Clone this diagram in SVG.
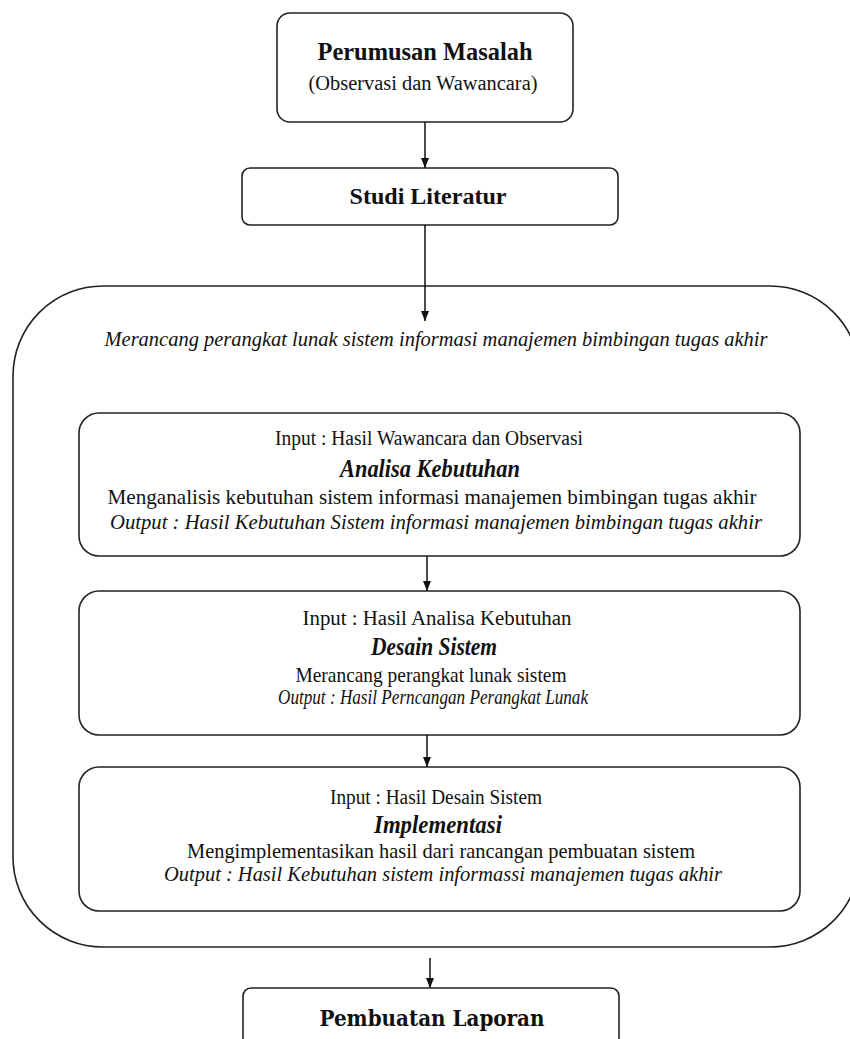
<svg xmlns="http://www.w3.org/2000/svg" width="850" height="1039" viewBox="0 0 850 1039">
<style>
.box{fill:#fff;stroke:#222;stroke-width:1.6}
.c{fill:none;stroke:#111;stroke-width:1.5}
text{font-family:"Liberation Serif","Times New Roman",serif;fill:#111;text-anchor:middle}
.b{font-weight:bold}
.i{font-style:italic}
.bi{font-weight:bold;font-style:italic}
.cam{font-family:"DejaVu Serif","Liberation Serif",serif;font-weight:bold}
</style>
<defs>
<marker id="ah" viewBox="0 0 10 10" refX="10" refY="5" markerWidth="10" markerHeight="10" markerUnits="userSpaceOnUse" orient="auto">
<path d="M0,1 L10,5 L0,9 Z" fill="#111"/>
</marker>
</defs>
<rect width="850" height="1039" fill="#fff"/>
<g id="container">
<rect class="box" x="13" y="286" width="847" height="661" rx="90" ry="90"/>
<text class="i" x="436" y="346" font-size="20" textLength="663" lengthAdjust="spacingAndGlyphs">Merancang perangkat lunak sistem informasi manajemen bimbingan tugas akhir</text>
</g>
<g id="perumusan">
<rect class="box" x="277" y="13" width="296" height="109" rx="13"/>
<text class="b" x="425" y="60" font-size="25" textLength="215" lengthAdjust="spacingAndGlyphs">Perumusan Masalah</text>
<text x="423" y="90" font-size="20" textLength="229" lengthAdjust="spacingAndGlyphs">(Observasi dan Wawancara)</text>
</g>
<g id="studi">
<rect class="box" x="242" y="168" width="376" height="57" rx="8"/>
<text class="b" x="428" y="204" font-size="24" textLength="157" lengthAdjust="spacingAndGlyphs">Studi Literatur</text>
</g>
<g id="analisa">
<rect class="box" x="79" y="413" width="721" height="143" rx="20"/>
<text x="429" y="445" font-size="20" textLength="308" lengthAdjust="spacingAndGlyphs">Input : Hasil Wawancara dan Observasi</text>
<text class="bi" x="430" y="477" font-size="25" textLength="180" lengthAdjust="spacingAndGlyphs">Analisa Kebutuhan</text>
<text x="432" y="504" font-size="21" textLength="649" lengthAdjust="spacingAndGlyphs">Menganalisis kebutuhan sistem informasi manajemen bimbingan tugas akhir</text>
<text class="i" x="436" y="529" font-size="20" textLength="652" lengthAdjust="spacingAndGlyphs">Output : Hasil Kebutuhan Sistem informasi manajemen bimbingan tugas akhir</text>
</g>
<g id="desain">
<rect class="box" x="79" y="591" width="721" height="144" rx="20"/>
<text x="437" y="625" font-size="20" textLength="269" lengthAdjust="spacingAndGlyphs">Input : Hasil Analisa Kebutuhan</text>
<text class="bi" x="434" y="655" font-size="25" textLength="126" lengthAdjust="spacingAndGlyphs">Desain Sistem</text>
<text x="431" y="682" font-size="21" textLength="271" lengthAdjust="spacingAndGlyphs">Merancang perangkat lunak sistem</text>
<text class="i" x="433" y="704" font-size="20" textLength="310" lengthAdjust="spacingAndGlyphs">Output : Hasil Perncangan Perangkat Lunak</text>
</g>
<g id="implementasi">
<rect class="box" x="79" y="767" width="721" height="144" rx="20"/>
<text x="436" y="804" font-size="20" textLength="212" lengthAdjust="spacingAndGlyphs">Input : Hasil Desain Sistem</text>
<text class="bi" x="438" y="833" font-size="25" textLength="128" lengthAdjust="spacingAndGlyphs">Implementasi</text>
<text x="441" y="858" font-size="21" textLength="508" lengthAdjust="spacingAndGlyphs">Mengimplementasikan hasil dari rancangan pembuatan sistem</text>
<text class="i" x="443" y="881" font-size="20" textLength="558" lengthAdjust="spacingAndGlyphs">Output : Hasil Kebutuhan sistem informassi manajemen tugas akhir</text>
</g>
<g id="laporan">
<rect class="box" x="243" y="988" width="376" height="70" rx="8"/>
<text class="cam" x="432" y="1026" font-size="22" textLength="225" lengthAdjust="spacingAndGlyphs">Pembuatan Laporan</text>
</g>
<g id="connectors">
<line class="c" x1="425" y1="122" x2="425" y2="168" marker-end="url(#ah)"/>
<line class="c" x1="425" y1="225" x2="425" y2="321" marker-end="url(#ah)"/>
<line class="c" x1="427" y1="556" x2="427" y2="591" marker-end="url(#ah)"/>
<line class="c" x1="427" y1="735" x2="427" y2="767" marker-end="url(#ah)"/>
<line class="c" x1="430" y1="958" x2="430" y2="988" marker-end="url(#ah)"/>
</g>
</svg>
